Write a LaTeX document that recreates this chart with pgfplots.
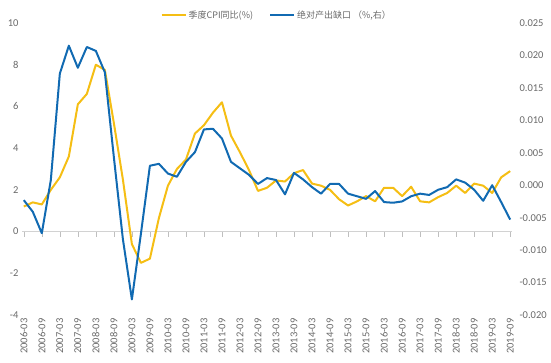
\documentclass[border=0pt]{standalone}
\usepackage{pgfplots}
\pgfplotsset{compat=1.18}
\usepackage{fontspec}
\setmainfont{Carlito}
\newfontfamily\cjk{Noto Sans CJK SC}
\definecolor{cpiY}{RGB}{245,190,20}
\definecolor{gapB}{RGB}{17,106,178}
\definecolor{txt}{RGB}{105,105,105}

\pgfplotstableread{
i v
0 1.2
1 1.4
2 1.3
3 2.0
4 2.6
5 3.6
6 6.1
7 6.6
8 8.0
9 7.75
10 5.2
11 2.5
12 -0.6
13 -1.5
14 -1.3
15 0.65
16 2.2
17 3.0
18 3.45
19 4.7
20 5.1
21 5.7
22 6.2
23 4.6
24 3.8
25 2.95
26 1.95
27 2.1
28 2.45
29 2.4
30 2.8
31 2.95
32 2.3
33 2.2
34 2.0
35 1.55
36 1.25
37 1.45
38 1.7
39 1.45
40 2.1
41 2.1
42 1.7
43 2.15
44 1.45
45 1.4
46 1.65
47 1.85
48 2.2
49 1.85
50 2.3
51 2.2
52 1.85
53 2.6
54 2.9
}\cpitab

\pgfplotstableread{
i r
0 -0.0023
1 -0.0041
2 -0.0074
3 0.0008
4 0.0172
5 0.0215
6 0.0181
7 0.0213
8 0.0207
9 0.0174
10 0.0043
11 -0.0083
12 -0.0176
13 -0.0075
14 0.0030
15 0.0033
16 0.0018
17 0.0013
18 0.0036
19 0.0051
20 0.0086
21 0.0087
22 0.0072
23 0.0036
24 0.0026
25 0.0016
26 0.0002
27 0.0011
28 0.0008
29 -0.0014
30 0.0019
31 0.0009
32 -0.0003
33 -0.0013
34 0.0002
35 0.0002
36 -0.0013
37 -0.0017
38 -0.0021
39 -0.0009
40 -0.0026
41 -0.0027
42 -0.0025
43 -0.0017
44 -0.0013
45 -0.0015
46 -0.0007
47 -0.0003
48 0.0009
49 0.0004
50 -0.0007
51 -0.0024
52 0.0000
53 -0.0026
54 -0.0053
}\gaptab

\begin{document}
\begin{tikzpicture}
\path[use as bounding box] (-22pt,-48pt) rectangle (529pt,315pt);
\pgfplotsset{base/.style={scale only axis, width=490pt, height=292pt,
  at={(0pt,0pt)}, anchor=south west, xmin=-0.2, xmax=54.2,
  tick label style={font=\fontsize{10.5}{11}\selectfont, text=txt},
  /pgf/number format/assume math mode=true}}

% zero line with ticks
\begin{axis}[base, ymin=-4, ymax=10, axis x line=middle, axis y line=none,
  xtick={0,2,...,54}, xticklabels={}, ytick=\empty,
  x axis line style={-, draw=gray!35, line width=0.8pt},
  tick style={draw=gray!50, line width=0.6pt}, major tick length=5pt, tick align=outside]
\end{axis}

% left axis: CPI
\begin{axis}[base, ymin=-4, ymax=10, ytick={-4,-2,...,10},
  axis x line*=bottom, axis y line*=left,
  x axis line style={draw=none}, y axis line style={draw=none},
  major tick length=0pt,
  xtick={0,2,...,54},
  xticklabels={2006-03,2006-09,2007-03,2007-09,2008-03,2008-09,2009-03,2009-09,2010-03,2010-09,2011-03,2011-09,2012-03,2012-09,2013-03,2013-09,2014-03,2014-09,2015-03,2015-09,2016-03,2016-09,2017-03,2017-09,2018-03,2018-09,2019-03,2019-09},
  xticklabel style={rotate=90, anchor=east},
  legend style={at={(0.52,1.027)}, anchor=center, draw=none, fill=none,
    font=\cjk\fontsize{9}{10}\selectfont, text=txt,
    /tikz/every even column/.append style={column sep=14pt}},
  legend columns=2,
  legend image code/.code={\draw[#1] (0pt,0pt) -- (24pt,0pt);}]
\addplot[cpiY, line width=2pt, line join=round] table[x=i, y=v] {\cpitab};
\addlegendentry{季度CPI同比(\%)}
\addlegendimage{gapB, line width=2pt}
\addlegendentry{绝对产出缺口 （\%,右）}
\end{axis}

% right axis: output gap
\begin{axis}[base, ymin=-0.02, ymax=0.025,
  ytick={-0.020,-0.015,-0.010,-0.005,0,0.005,0.010,0.015,0.020,0.025},
  scaled y ticks=false,
  axis x line=none, axis y line*=right, y axis line style={draw=none},
  major tick length=0pt,
  yticklabel style={xshift=4pt},
  y tick label style={/pgf/number format/fixed, /pgf/number format/fixed zerofill, /pgf/number format/precision=3}]
\addplot[gapB, line width=2pt, line join=round] table[x=i, y=r] {\gaptab};
\end{axis}
\end{tikzpicture}
\end{document}
